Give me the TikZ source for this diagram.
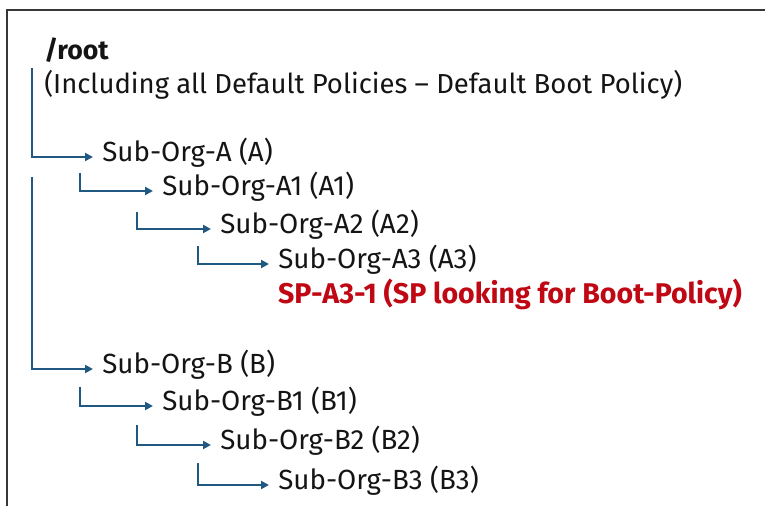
\documentclass[tikz,border=0pt]{standalone}
\usepackage{fontspec}
\setmainfont{Fira Sans}
\usetikzlibrary{arrows.meta}
\definecolor{linkblue}{RGB}{31,88,128}
\definecolor{alertred}{RGB}{192,8,20}
\definecolor{ink}{RGB}{20,20,20}
\definecolor{framegray}{RGB}{55,55,55}
\tikzset{
  org/.style={anchor=west, inner xsep=0pt, inner ysep=0pt, outer xsep=7pt, outer ysep=0pt,
    font=\fontsize{20.8}{24}\selectfont, text=ink, text height=0.94em, text depth=0.25em},
  title/.style={anchor=base west, inner sep=0pt, font=\fontsize{20.6}{24}\selectfont, text=ink},
  alert/.style={org, outer xsep=0pt, font=\fontsize{21.4}{24}\selectfont\bfseries, text=alertred},
  link/.style={draw=linkblue, line width=2pt, -{Triangle[length=6pt,width=6pt]}},
  frameline/.style={draw=framegray, line width=1.1pt}
}
\begin{document}
\begin{tikzpicture}[x=0.75pt,y=-0.75pt]
\useasboundingbox (0,0) rectangle (765,506);
\draw[frameline] (7,506) -- (7,10) -- (765,10);

\node[title, font=\fontsize{20}{24}\selectfont\bfseries] (root) at (44,60) {/root};
\node[title] (incl) at (44,94) {(Including all Default Policies – Default Boot Policy)};

\node[org] (A)  at (93,157)  {Sub-Org-A (A)};
\node[org] (A1) at (153,191) {Sub-Org-A1 (A1)};
\node[org] (A2) at (211,229) {Sub-Org-A2 (A2)};
\node[org] (A3) at (269,264) {Sub-Org-A3 (A3)};
\node[alert] (SP) at (278,299) {SP-A3-1 (SP looking for Boot-Policy)};

\node[org] (B)  at (93,369)  {Sub-Org-B (B)};
\node[org] (B1) at (153,406) {Sub-Org-B1 (B1)};
\node[org] (B2) at (211,445) {Sub-Org-B2 (B2)};
\node[org] (B3) at (269,485) {Sub-Org-B3 (B3)};

\coordinate (sA)  at (32,68);
\coordinate (sA1) at (80,173);
\coordinate (sA2) at (137,212);
\coordinate (sA3) at (198,246);
\coordinate (sB)  at (32,177);
\coordinate (sB1) at (80,387);
\coordinate (sB2) at (137,425);
\coordinate (sB3) at (198,463);

\draw[link] (sA)  |- (A.west);
\draw[link] (sA1) |- (A1.west);
\draw[link] (sA2) |- (A2.west);
\draw[link] (sA3) |- (A3.west);
\draw[link] (sB)  |- (B.west);
\draw[link] (sB1) |- (B1.west);
\draw[link] (sB2) |- (B2.west);
\draw[link] (sB3) |- (B3.west);
\end{tikzpicture}
\end{document}
